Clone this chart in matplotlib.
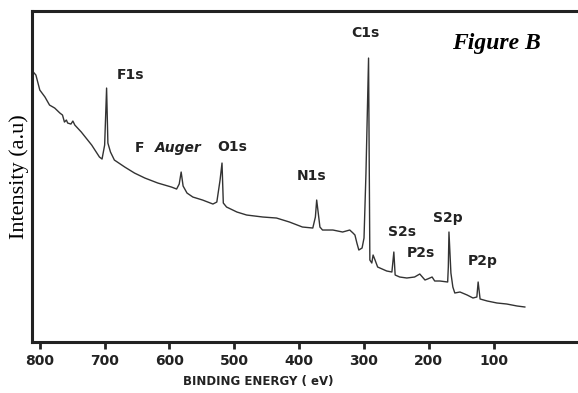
import numpy as np
import matplotlib.pyplot as plt

# XPS survey spectrum (binding energy in eV, intensity in a.u.)
energy = [810, 806, 800, 792, 785, 777, 769, 765, 762, 759, 757, 752, 749, 746,
          736, 720, 708, 704, 700, 697, 695, 691, 685, 669, 654, 638, 618, 597,
          589, 585, 582, 579, 573, 564, 549, 533, 527, 522, 519, 517, 512, 496,
          481, 456, 435, 415, 395, 379, 375, 373, 368, 364, 348, 333, 322, 317,
          314, 311, 308, 303, 300, 297, 293, 291, 288, 286, 283, 279, 265, 257,
          254, 252, 245, 234, 222, 214, 206, 202, 195, 191, 183, 171, 170, 169,
          166, 163, 160, 152, 141, 132, 126, 124, 121, 110, 95, 80, 64, 52]
intensity = [270, 267, 252, 245, 237, 234, 229, 227, 220, 222, 219, 218, 221, 217,
             210, 197, 185, 183, 197, 254, 199, 190, 182, 175, 169, 164, 159, 155,
             153, 158, 170, 156, 149, 145, 142, 138, 140, 162, 179, 139, 135, 130,
             127, 125, 124, 120, 115, 114, 125, 142, 115, 112, 112, 110, 112, 109,
             107, 99, 92, 94, 104, 169, 284, 82, 79, 87, 82, 75, 71, 70,
             90, 67, 65, 64, 65, 68, 62, 63, 65, 61, 61, 60, 75, 110,
             69, 55, 49, 50, 47, 44, 45, 60, 43, 41, 39, 38, 36, 35]

# peak labels: text, left energy, vertical centre
peak_labels = ["F1s", "F", "O1s", "N1s", "C1s", "S2s", "P2s", "S2p", "P2p"]
label_x = [681, 654, 526, 404, 319, 263, 234, 194, 140]
label_y = [267, 194, 195, 166, 309, 110, 89, 124, 81]

ticks = [800, 700, 600, 500, 400, 300, 200, 100]

fig = plt.figure(figsize=(5.78, 3.93), dpi=100)
ax = fig.add_axes([0.0554, 0.1298, 0.9446, 0.842])

ax.plot(energy, intensity, color="#333333", lw=1.0)

ax.set_xlim(812, -30)
ax.set_ylim(0, 331)

for s in ["left", "top", "bottom"]:
    ax.spines[s].set_linewidth(2.2)
    ax.spines[s].set_color("#222222")
ax.spines["right"].set_visible(False)

ax.set_yticks([])
ax.set_xticks(ticks)
ax.set_xticklabels([str(t) for t in ticks], fontsize=10, fontweight="bold", color="#222222")
ax.tick_params(axis="x", direction="out", length=5, width=2, pad=4, color="#222222")

ax.set_xlabel("BINDING ENERGY ( eV)", fontsize=8.5, fontweight="bold", color="#222222")
ax.xaxis.set_label_coords(0.414, -0.10)
ax.set_ylabel("Intensity (a.u)", fontsize=16, family="Liberation Serif", labelpad=2)

for txt, x, y in zip(peak_labels, label_x, label_y):
    ax.text(x, y, txt, fontsize=10, fontweight="bold", ha="left", va="center", color="#222222")
ax.text(623, 194, "Auger", fontsize=10, fontweight="bold", fontstyle="italic",
        ha="left", va="center", color="#222222")

ax.text(164, 299, "Figure B", fontsize=17, family="Liberation Serif",
        fontweight="bold", fontstyle="italic", ha="left", va="center")

fig.savefig("out.png", dpi=100)
